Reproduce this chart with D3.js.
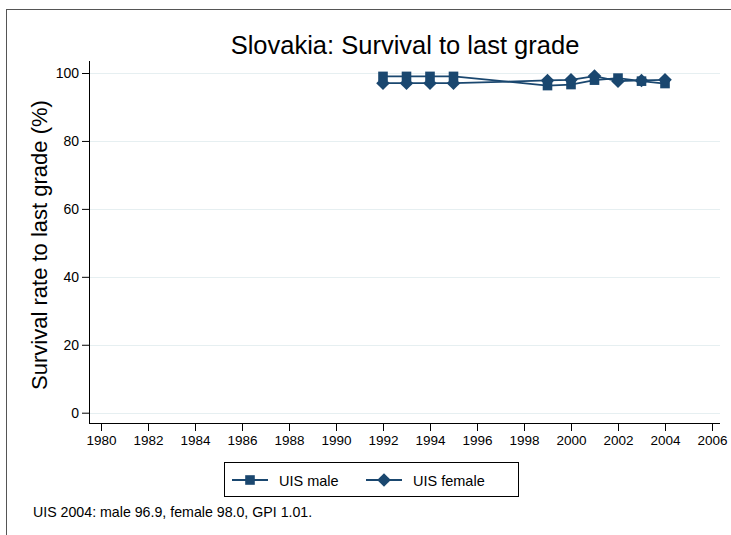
<!DOCTYPE html>
<html><head><meta charset="utf-8">
<script src="https://cdn.jsdelivr.net/npm/d3@7"></script>
<style>
body{margin:0;background:#fff;}
svg{display:block;font-family:"Liberation Sans",Arial,Helvetica,sans-serif;}
</style></head>
<body>
<svg id="chart" width="731" height="535"></svg>
<script>
const years = [1992, 1993, 1994, 1995, 1999, 2000, 2001, 2002, 2003, 2004];
const maleValues = [99.0, 99.0, 99.0, 99.0, 96.3, 96.6, 97.9, 98.5, 97.6, 96.9];
const femaleValues = [97.0, 97.0, 97.0, 97.0, 97.8, 98.0, 99.1, 97.6, 97.8, 98.0];
const xTicks = [1980,1982,1984,1986,1988,1990,1992,1994,1996,1998,2000,2002,2004,2006];
const yTicks = [0, 20, 40, 60, 80, 100];
const seriesNames = ["UIS male", "UIS female"];
const titleText = "Slovakia: Survival to last grade";
const yTitle = "Survival rate to last grade (%)";
const noteText = "UIS 2004: male 96.9, female 98.0, GPI 1.01.";

const color = "#1a476f";
const svg = d3.select("#chart");

// outer frame (cropped)
svg.append("rect").attr("x",6.5).attr("y",9.5).attr("width",800).attr("height",600)
  .attr("fill","none").attr("stroke","#555").attr("stroke-width",1);

const x = d3.scaleLinear().domain([1980, 2006]).range([101, 712]);
const y = d3.scaleLinear().domain([0, 100]).range([412.7, 73]);
const plotL = 89, plotR = 720, plotT = 61, plotB = 423;

// gridlines
svg.append("g").selectAll("line").data(yTicks).join("line")
  .attr("x1", plotL).attr("x2", plotR)
  .attr("y1", d => Math.round(y(d))+0.5).attr("y2", d => Math.round(y(d))+0.5)
  .attr("stroke", "#e6eff1").attr("stroke-width", 1);

// y axis
const yAxis = d3.axisLeft(y).tickValues(yTicks).tickSize(7).tickPadding(3).tickSizeOuter(0);
const gy = svg.append("g").attr("transform", `translate(${plotL},0)`).call(yAxis);
gy.select(".domain").remove();
gy.append("line").attr("x1",0.5).attr("x2",0.5).attr("y1",plotT).attr("y2",plotB).attr("stroke","#000");
gy.selectAll(".tick line").attr("stroke","#000");
gy.selectAll(".tick text").attr("font-size",14).attr("fill","#000").attr("font-family","Liberation Sans, Arial, sans-serif");

// x axis
const xAxis = d3.axisBottom(x).tickValues(xTicks).tickFormat(d3.format("d")).tickSize(8).tickPadding(4).tickSizeOuter(0);
const gx = svg.append("g").attr("transform", `translate(0,${plotB})`).call(xAxis);
gx.select(".domain").remove();
gx.append("line").attr("x1",plotL).attr("x2",plotR).attr("y1",0.5).attr("y2",0.5).attr("stroke","#000");
gx.selectAll(".tick line").attr("stroke","#000");
gx.selectAll(".tick text").attr("font-size",13.5).attr("fill","#000").attr("font-family","Liberation Sans, Arial, sans-serif");

// lines
const male = years.map((yr,i)=>({x:yr,y:maleValues[i]}));
const female = years.map((yr,i)=>({x:yr,y:femaleValues[i]}));
const line = d3.line().x(d=>x(d.x)).y(d=>y(d.y));
[male, female].forEach(s=>{
  svg.append("path").datum(s).attr("d", line).attr("fill","none")
    .attr("stroke", color).attr("stroke-width", 1.8);
});

const sq = "M-4.8,-4.8H4.8V4.8H-4.8Z";
const dia = "M0,-6.8L6.8,0L0,6.8L-6.8,0Z";
svg.append("g").selectAll("path").data(male).join("path")
  .attr("d", sq).attr("transform", d=>`translate(${x(d.x)},${y(d.y)})`).attr("fill", color);
svg.append("g").selectAll("path").data(female).join("path")
  .attr("d", dia).attr("transform", d=>`translate(${x(d.x)},${y(d.y)})`).attr("fill", color);

// title
svg.append("text").attr("x", 405).attr("y", 54).attr("text-anchor","middle")
  .attr("font-size", 25.5).attr("fill","#000").text(titleText);

// y title
svg.append("text").attr("transform","translate(47,245) rotate(-90)").attr("text-anchor","middle")
  .attr("font-size", 22).attr("fill","#000").text(yTitle);

// legend
const lg = svg.append("g");
lg.append("rect").attr("x",224.5).attr("y",462.5).attr("width",294).attr("height",34)
  .attr("fill","#fff").attr("stroke","#000");
const items = [{name:seriesNames[0], sym:sq, x0:232},{name:seriesNames[1], sym:dia, x0:366}];
items.forEach(it=>{
  lg.append("line").attr("x1",it.x0).attr("x2",it.x0+36).attr("y1",480).attr("y2",480)
    .attr("stroke",color).attr("stroke-width",1.8);
  lg.append("path").attr("d",it.sym).attr("transform",`translate(${it.x0+18},480)`).attr("fill",color);
  lg.append("text").attr("x",it.x0+47).attr("y",485.5).attr("font-size",14.5).attr("fill","#000").text(it.name);
});

// note
svg.append("text").attr("x",33).attr("y",517).attr("font-size",14.2).attr("fill","#000").text(noteText);
</script>
</body></html>
